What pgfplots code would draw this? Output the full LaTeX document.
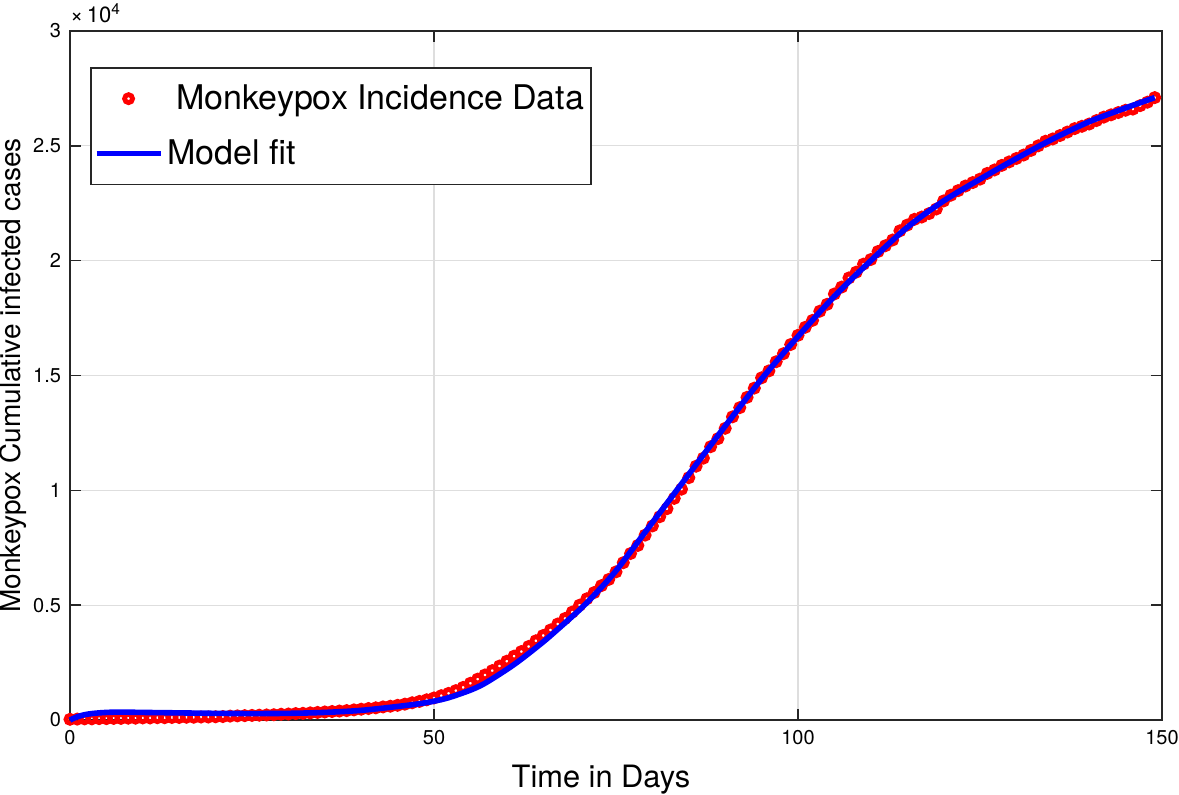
\documentclass[border=0pt]{standalone}
\usepackage{fontspec}
\setmainfont{TeX Gyre Heros}
\usepackage{pgfplots}
\usepackage{pgfplotstable}
\pgfplotsset{compat=1.18}
\usetikzlibrary{calc}

\pgfplotstableread{
day cases
0 30
1 40
2 50
3 50
4 60
5 60
6 70
7 70
8 80
9 80
10 90
11 90
12 100
13 100
14 110
15 110
16 120
17 120
18 130
19 130
20 140
21 150
22 170
23 180
24 190
25 200
26 210
27 220
28 230
29 250
30 260
31 280
32 290
33 310
34 330
35 350
36 370
37 390
38 410
39 440
40 470
41 500
42 530
43 570
44 600
45 640
46 690
47 750
48 810
49 880
50 960
51 1060
52 1160
53 1280
54 1420
55 1600
56 1780
57 1960
58 2150
59 2350
60 2560
61 2780
62 2980
63 3200
64 3450
65 3680
66 3920
67 4180
68 4420
69 4700
70 5000
71 5280
72 5550
73 5850
74 6120
75 6450
76 6850
77 7250
78 7600
79 8050
80 8450
81 8850
82 9200
83 9650
84 10050
85 10550
86 11050
87 11400
88 11900
89 12250
90 12700
91 13200
92 13600
93 14050
94 14450
95 14900
96 15200
97 15600
98 15950
99 16350
100 16750
101 17100
102 17400
103 17800
104 18100
105 18550
106 18850
107 19250
108 19500
109 19850
110 20050
111 20400
112 20650
113 20900
114 21300
115 21550
116 21800
117 21900
118 22050
119 22250
120 22600
121 22850
122 23050
123 23250
124 23400
125 23550
126 23800
127 23950
128 24150
129 24300
130 24450
131 24600
132 24800
133 25000
134 25200
135 25300
136 25450
137 25600
138 25750
139 25850
140 25950
141 26100
142 26250
143 26350
144 26450
145 26550
146 26600
147 26750
148 26900
149 27100
}\datatable

\pgfplotstableread{
day fit
0 0
1 140
2 230
3 280
4 310
5 330
6 340
8 340
10 330
15 310
20 290
25 280
30 290
35 330
40 420
45 590
48 710
50 820
52 970
55 1300
57 1600
60 2200
62 2650
65 3400
67 3950
70 4800
72 5440
75 6500
80 8600
85 10700
90 12800
95 14850
100 16700
105 18450
110 20000
115 21450
120 22600
125 23550
130 24450
135 25300
140 26050
145 26650
149 27100
}\fittable

\pgfplotsset{
  legdot/.style={legend image code/.code={\path (0pt,0pt) (32pt,0pt); \draw[##1] plot coordinates {(16pt,0pt)};}},
  legline/.style={legend image code/.code={\draw[##1] (0pt,0pt) -- (32pt,0pt);}},
}

\begin{document}
\begin{tikzpicture}
\begin{axis}[
  scale only axis,
  width=546pt, height=344.5pt,
  xmin=0, xmax=150, ymin=0, ymax=30000,
  xtick={0,50,100,150},
  ytick={0,5000,10000,15000,20000,25000,30000},
  yticklabels={0,0.5,1,1.5,2,2.5,3},
  scaled y ticks=false,
  tick align=inside,
  major tick length=5.5pt,
  grid=major,
  major grid style={color=black!13, line width=0.6pt},
  axis line style={color=black!85, line width=0.8pt},
  tick style={color=black!85, line width=0.8pt},
  /pgf/number format/assume math mode=true,
  tick label style={font=\fontsize{10}{12}\selectfont},
  xticklabel style={yshift=-1.5pt},
  yticklabel style={xshift=-1pt},
  xlabel={Time in Days},
  ylabel={Monkeypox Cumulative infected cases},
  xlabel style={font=\fontsize{15.4}{18}\selectfont, at={(axis description cs:0.5,0)}, anchor=base, yshift=-33.5pt, xshift=-7.5pt},
  ylabel style={font=\fontsize{14}{17}\selectfont, at={(axis description cs:0,0.5)}, anchor=base, yshift=24.5pt},
  clip=false,
  clip mode=individual,
  legend style={
    at={(axis description cs:0.0183,0.9478)}, anchor=north west,
    draw=black!85, line width=0.8pt,
    font=\fontsize{17}{20}\selectfont,
    inner xsep=1.5pt, inner ysep=6.5pt,
    row sep=9.5pt,
    cells={anchor=west},
  },
]
\addplot[only marks, mark=o, color=red, mark size=2pt, line width=2.4pt, legdot]
  table[x=day, y=cases] {\datatable};
\addlegendentry{\hspace{4.5pt}Monkeypox Incidence Data\hspace{2pt}}
\addplot[color=blue, line width=2.8pt, smooth, tension=0.5, legline]
  table[x=day, y=fit] {\fittable};
\addlegendentry{Model fit}
\coordinate (bl) at (rel axis cs:0,0);
\coordinate (tr) at (rel axis cs:1,1);
\node[anchor=base west, inner sep=0pt, font=\fontsize{11}{13}\selectfont] at ($(rel axis cs:0,1)+(0pt,4.5pt)$) {×\,10\textsuperscript{4}};
\end{axis}
\pgfresetboundingbox
\path ($(bl)+(-35pt,-37pt)$) rectangle ($(tr)+(8.5pt,15.5pt)$);
\end{tikzpicture}
\end{document}
